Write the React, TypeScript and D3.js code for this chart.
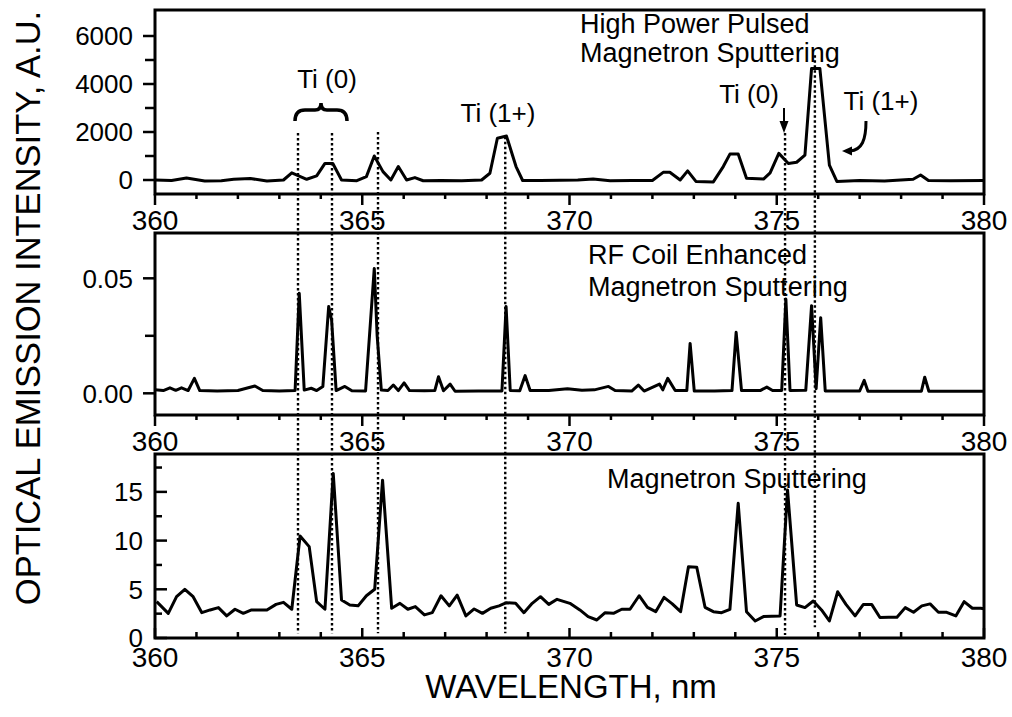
import React from "react";
import * as d3 from "d3";

// ---- Data ----
const hppmsWl = [360.0, 360.4, 360.76, 361.2, 361.6, 361.9, 362.3, 362.7, 363.1, 363.3, 363.66, 363.9, 364.1, 364.29, 364.5, 364.87, 365.1, 365.29, 365.5, 365.69, 365.87, 366.07, 366.27, 366.47, 366.9, 367.4, 367.88, 368.08, 368.26, 368.48, 368.71, 368.87, 369.3, 369.77, 370.2, 370.57, 370.98, 371.5, 372.0, 372.26, 372.42, 372.67, 372.85, 373.05, 373.47, 373.71, 373.87, 374.07, 374.27, 374.68, 374.84, 375.05, 375.28, 375.48, 375.68, 375.84, 376.04, 376.27, 376.45, 377.0, 377.6, 378.29, 378.47, 378.66, 379.2, 380.0];
const hppmsInt = [0, -20, 80, -40, -30, 30, 60, -40, 0, 300, 30, 170, 690, 690, 0, -30, 140, 1000, 350, 0, 560, 0, 100, -30, -20, -30, 0, 280, 1740, 1830, 560, -20, -20, -10, 0, 40, -30, -20, -20, 320, 320, 0, 380, -60, -80, 560, 1080, 1080, 70, 40, 300, 1110, 690, 740, 1040, 4650, 4650, 620, -60, -20, -40, 30, 210, -20, -30, -20];

const rfWl = [360.0, 360.2, 360.36, 360.5, 360.64, 360.8, 360.95, 361.08, 361.5, 362.0, 362.41, 362.6, 363.0, 363.38, 363.48, 363.6, 363.77, 363.9, 364.05, 364.19, 364.26, 364.37, 364.58, 364.75, 365.08, 365.29, 365.36, 365.46, 365.62, 365.75, 365.87, 366.01, 366.14, 366.5, 366.75, 366.84, 366.96, 367.12, 367.24, 367.8, 368.37, 368.47, 368.57, 368.8, 368.93, 369.05, 369.5, 369.95, 370.3, 370.6, 370.94, 371.1, 371.5, 371.66, 371.8, 372.17, 372.25, 372.37, 372.55, 372.83, 372.91, 373.01, 373.5, 373.92, 374.02, 374.15, 374.6, 374.76, 374.9, 375.12, 375.22, 375.32, 375.7, 375.84, 375.95, 376.06, 376.17, 376.6, 377.0, 377.11, 377.2, 377.8, 378.49, 378.57, 378.67, 379.3, 380.0];
const rfInt = [0.0015, 0.0012, 0.0024, 0.0013, 0.0024, 0.0012, 0.0065, 0.0012, 0.001, 0.0012, 0.0032, 0.0012, 0.001, 0.0012, 0.0435, 0.0014, 0.0022, 0.0012, 0.003, 0.0377, 0.032, 0.0012, 0.003, 0.0011, 0.001, 0.0543, 0.025, 0.0014, 0.0012, 0.0036, 0.0012, 0.0045, 0.0012, 0.0011, 0.0012, 0.0072, 0.0011, 0.004, 0.0009, 0.001, 0.001, 0.0377, 0.0012, 0.0011, 0.0077, 0.0012, 0.0012, 0.002, 0.0013, 0.0015, 0.003, 0.0012, 0.001, 0.0036, 0.001, 0.004, 0.0015, 0.0065, 0.0012, 0.0012, 0.0217, 0.001, 0.001, 0.0012, 0.0265, 0.0012, 0.0012, 0.0027, 0.0012, 0.0012, 0.041, 0.0012, 0.0013, 0.0381, 0.002, 0.0329, 0.001, 0.001, 0.001, 0.0056, 0.0009, 0.0009, 0.0009, 0.007, 0.0009, 0.0009, 0.0009];

const msWl = [360.04, 360.32, 360.52, 360.72, 360.92, 361.13, 361.33, 361.53, 361.73, 361.93, 362.13, 362.33, 362.7, 362.92, 363.1, 363.3, 363.5, 363.72, 363.9, 364.1, 364.3, 364.5, 364.7, 364.9, 365.1, 365.3, 365.49, 365.71, 365.91, 366.1, 366.28, 366.5, 366.69, 366.9, 367.1, 367.29, 367.5, 367.7, 367.9, 368.1, 368.3, 368.48, 368.7, 368.9, 369.1, 369.3, 369.5, 369.7, 370.01, 370.25, 370.45, 370.66, 370.86, 371.06, 371.26, 371.46, 371.68, 371.88, 372.08, 372.28, 372.48, 372.68, 372.87, 373.07, 373.27, 373.47, 373.67, 373.87, 374.07, 374.27, 374.48, 374.68, 375.08, 375.26, 375.48, 375.68, 375.88, 376.08, 376.27, 376.47, 376.67, 376.89, 377.09, 377.29, 377.49, 377.7, 377.9, 378.1, 378.3, 378.5, 378.7, 378.9, 379.1, 379.32, 379.52, 379.72, 379.92, 380.0];
const msInt = [3.73, 2.53, 4.24, 5.0, 4.24, 2.6, 2.88, 3.12, 2.27, 2.95, 2.53, 2.88, 2.88, 3.45, 3.66, 2.95, 10.47, 9.38, 3.73, 2.95, 16.9, 3.9, 3.39, 3.3, 4.34, 5.0, 16.2, 3.05, 3.56, 2.95, 3.23, 2.37, 2.6, 4.34, 3.3, 4.4, 2.27, 2.98, 2.53, 3.05, 3.3, 3.62, 3.56, 2.6, 3.56, 4.24, 3.45, 3.97, 3.56, 2.88, 2.2, 1.85, 2.6, 2.53, 2.95, 2.95, 4.34, 3.15, 2.7, 4.17, 3.5, 2.7, 7.32, 7.26, 3.15, 2.7, 2.6, 2.95, 13.83, 2.7, 1.75, 2.2, 2.27, 15.2, 3.39, 3.12, 3.8, 2.88, 1.75, 4.75, 3.45, 2.27, 3.45, 3.45, 2.1, 2.13, 2.13, 3.12, 2.64, 3.3, 3.5, 2.64, 2.64, 2.27, 3.73, 3.05, 3.05, 3.0];

// dotted reference lines: wavelength, start (top-panel units), end (bottom-panel units)
const refWl = [363.45, 364.27, 365.38, 368.45, 375.2, 375.92];
const refTop = [1960, 1960, 2000, 1800, 1960, 5200];
const refBottom = [0.5, 0.5, 0.5, 0.5, 0.3, 1.1];

const xTickLabels = [360, 365, 370, 375, 380];
const topMajor = [0, 2000, 4000, 6000];
const topMinor = [1000, 3000, 5000];
const midMajor = [0, 0.05];
const midMinor = [0.025];
const botMajor = [0, 5, 10, 15];
const botMinor = [2.5, 7.5, 12.5, 17.5];

const FONT = "'Liberation Sans', Arial, Helvetica, sans-serif";
const W = 1012, H = 717;
const X0 = 155, X1 = 984;

type Panel = {
  top: number; bottom: number; domain: [number, number];
  wl: number[]; val: number[];
  major: number[]; minor: number[]; fmt: (v: number) => string;
  inside: boolean;
};

const panels: Panel[] = [
  { top: 10, bottom: 194, domain: [-583, 7083], wl: hppmsWl, val: hppmsInt, major: topMajor, minor: topMinor, fmt: d3.format("d"), inside: false },
  { top: 233, bottom: 415, domain: [-0.00943, 0.0697], wl: rfWl, val: rfInt, major: midMajor, minor: midMinor, fmt: d3.format(".2f"), inside: false },
  { top: 454, bottom: 638, domain: [0, 18.89], wl: msWl, val: msInt, major: botMajor, minor: botMinor, fmt: d3.format("d"), inside: true },
];

const x = d3.scaleLinear().domain([360, 380]).range([X0, X1]);
const xTicks = d3.range(360, 381, 1);

function PanelView({ p }: { p: Panel }) {
  const y = d3.scaleLinear().domain(p.domain).range([p.bottom, p.top]);
  const line = d3.line<number>().x((_, i) => x(p.wl[i])).y((v) => y(v));
  const dir = p.inside ? -1 : 1;
  const ldir = p.inside ? 1 : -1;
  const labelX = p.inside ? X0 - 12 : X0 - 22;
  return (
    <g>
      <path d={line(p.val) || ""} fill="none" stroke="#000" strokeWidth={3} strokeLinejoin="round" />
      <rect x={X0} y={p.top} width={X1 - X0} height={p.bottom - p.top} fill="none" stroke="#000" strokeWidth={3} />
      {xTicks.map((t) => {
        const major = t % 5 === 0;
        const len = p.inside ? (major ? 10 : 6) : (major ? 11 : 5);
        return <line key={t} x1={x(t)} x2={x(t)} y1={p.bottom} y2={p.bottom + dir * len} stroke="#000" strokeWidth={2.5} />;
      })}
      {p.major.map((t) => (
        <line key={"M" + t} x1={X0} x2={X0 + ldir * 12} y1={y(t)} y2={y(t)} stroke="#000" strokeWidth={2.5} />
      ))}
      {p.minor.map((t) => (
        <line key={"m" + t} x1={X0} x2={X0 + ldir * (p.inside ? 7 : 10)} y1={y(t)} y2={y(t)} stroke="#000" strokeWidth={2.5} />
      ))}
      {p.major.map((t) => (
        <text key={"L" + t} x={labelX} y={y(t)} dy="0.36em" textAnchor="end" fontSize={26} fontFamily={FONT}>{p.fmt(t)}</text>
      ))}
      {xTickLabels.map((t) => (
        <text key={"X" + t} x={x(t)} y={p.bottom + (p.inside ? 29 : 36)} textAnchor="middle" fontSize={28} fontFamily={FONT}>{t}</text>
      ))}
    </g>
  );
}

export default function App() {
  const yTop = d3.scaleLinear().domain(panels[0].domain).range([panels[0].bottom, panels[0].top]);
  const yBot = d3.scaleLinear().domain(panels[2].domain).range([panels[2].bottom, panels[2].top]);
  return (
    <svg width={W} height={H} style={{ position: "absolute", left: 0, top: 0, display: "block", background: "#fff" }}>
      <rect x={0} y={0} width={W} height={H} fill="#fff" />
      {refWl.map((w, i) => (
        <line key={"r" + i} x1={x(w)} x2={x(w)} y1={yTop(refTop[i])} y2={yBot(refBottom[i])} stroke="#000" strokeWidth={2.4} strokeDasharray="2.5,2.5" />
      ))}
      {panels.map((p, i) => <PanelView key={i} p={p} />)}

      {/* Top panel annotations */}
      <text x={580} y={33} fontSize={27} fontFamily={FONT}>High Power Pulsed</text>
      <text x={580} y={62} fontSize={27} fontFamily={FONT}>Magnetron Sputtering</text>
      <text x={327} y={88} textAnchor="middle" fontSize={26} fontFamily={FONT}>Ti (0)</text>
      <path d="M295,121 Q295,110 305,110 L315,110 Q321,110 321,103 Q321,110 327,110 L337,110 Q347,110 347,121" fill="none" stroke="#000" strokeWidth={3.5} />
      <text x={498} y={122} textAnchor="middle" fontSize={26} fontFamily={FONT}>Ti (1+)</text>
      <text x={749} y={103} textAnchor="middle" fontSize={26} fontFamily={FONT}>Ti (0)</text>
      <line x1={784} x2={784} y1={108} y2={124} stroke="#000" strokeWidth={2} />
      <polygon points="779.5,121 788.5,121 784,133" fill="#000" />
      <text x={881} y={110} textAnchor="middle" fontSize={26} fontFamily={FONT}>Ti (1+)</text>
      <path d="M866,121 C866,140 862,150 850,151" fill="none" stroke="#000" strokeWidth={3} />
      <polygon points="842,151 852,146.5 852,155.5" fill="#000" />

      {/* Middle panel annotations */}
      <text x={588} y={264} fontSize={27} fontFamily={FONT}>RF Coil Enhanced</text>
      <text x={588} y={296} fontSize={27} fontFamily={FONT}>Magnetron Sputtering</text>

      {/* Bottom panel annotation */}
      <text x={607} y={488} fontSize={27} fontFamily={FONT}>Magnetron Sputtering</text>

      {/* Axis titles */}
      <text transform="translate(40,308) rotate(-90)" textAnchor="middle" fontSize={34.5} fontFamily={FONT}>OPTICAL EMISSION INTENSITY, A.U.</text>
      <text x={571} y={698} textAnchor="middle" fontSize={33} fontFamily={FONT}>WAVELENGTH, nm</text>
    </svg>
  );
}
